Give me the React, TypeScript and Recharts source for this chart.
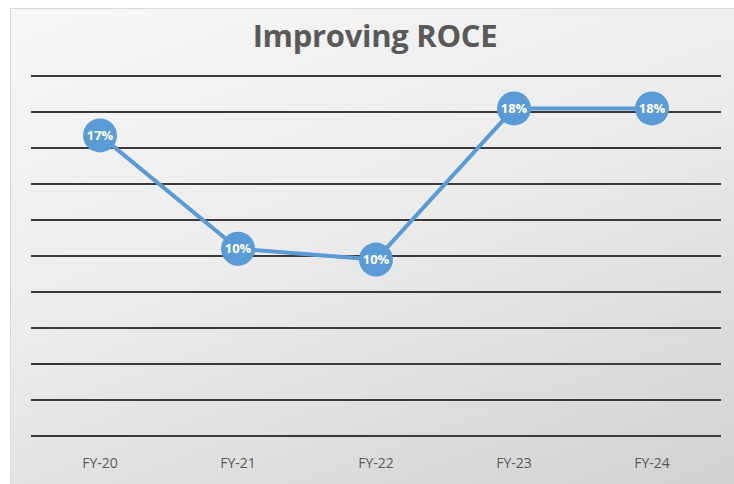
import { LineChart, Line, XAxis, YAxis, CartesianGrid, LabelList } from "recharts";

const years = ["FY-20", "FY-21", "FY-22", "FY-23", "FY-24"];
const roce = [16.7, 10.4, 9.8, 18.2, 18.2];
const yTicks = [0, 2, 4, 6, 8, 10, 12, 14, 16, 18, 20];

const data = years.map((year, i) => ({ year, roce: roce[i] }));

export default function App() {
  return (
    <div
      style={{
        position: "absolute",
        left: 0,
        top: 0,
        width: 734,
        height: 484,
        background: "#ffffff",
        overflow: "hidden",
        fontFamily: "'Open Sans', sans-serif",
      }}
    >
      <div
        style={{
          position: "absolute",
          left: 10,
          top: 8,
          width: 724,
          height: 476,
          borderLeft: "1px solid #d9d9d9",
          borderTop: "1px solid #d9d9d9",
          background: "linear-gradient(160deg, #f7f7f7 0%, #ececec 45%, #d2d2d2 100%)",
        }}
      />
      <div
        style={{
          position: "absolute",
          left: 0,
          top: 13,
          width: 750,
          textAlign: "center",
          fontSize: 31,
          lineHeight: "44px",
          fontWeight: 700,
          color: "#595959",
          letterSpacing: -0.3,
        }}
      >
        Improving ROCE
      </div>
      <div style={{ position: "absolute", left: 0, top: 0 }}>
        <LineChart
          width={734}
          height={484}
          data={data}
          margin={{ top: 76, right: 13, bottom: 18, left: 31 }}
        >
          <CartesianGrid vertical={false} stroke="#3a3a3a" strokeWidth={2} />
          <XAxis
            dataKey="year"
            scale="band"
            axisLine={false}
            tickLine={false}
            height={30}
            tickMargin={16}
            tick={{ fill: "#595959", fontSize: 14 }}
          />
          <YAxis hide domain={[0, 20]} ticks={yTicks} />
          <Line
            type="linear"
            dataKey="roce"
            stroke="#5b9bd5"
            strokeWidth={4}
            isAnimationActive={false}
            dot={{ r: 17, fill: "#5b9bd5", stroke: "none" }}
            activeDot={false}
          >
            <LabelList
              dataKey="roce"
              position="center"
              formatter={(v: number) => `${Math.round(v)}%`}
              style={{ fill: "#ffffff", fontSize: 13, fontWeight: 700 }}
            />
          </Line>
        </LineChart>
      </div>
    </div>
  );
}
